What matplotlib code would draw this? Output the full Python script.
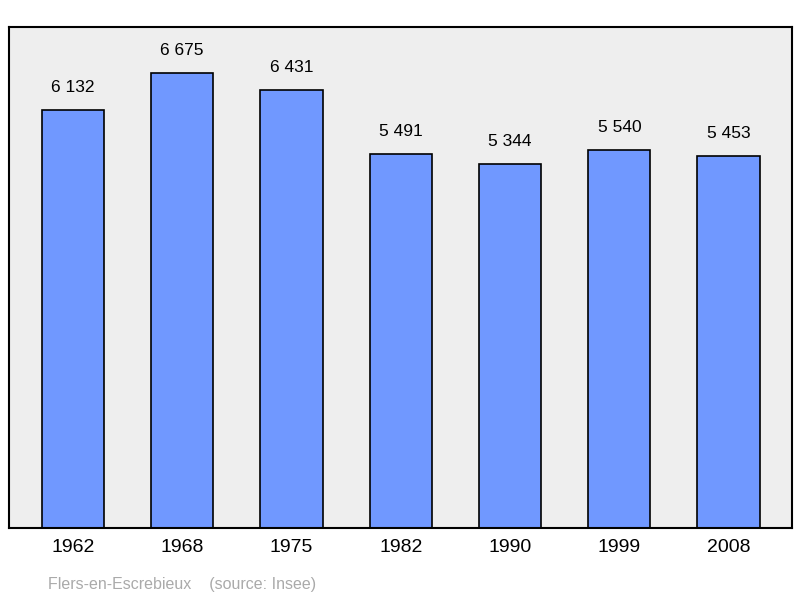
import matplotlib
matplotlib.use("Agg")
import matplotlib.pyplot as plt

years = ["1962", "1968", "1975", "1982", "1990", "1999", "2008"]
values = [6132, 6675, 6431, 5491, 5344, 5540, 5453]
labels = ["6 132", "6 675", "6 431", "5 491", "5 344", "5 540", "5 453"]

plt.rcParams['font.family'] = ['Liberation Sans', 'DejaVu Sans']
fig = plt.figure(figsize=(8, 5.98), dpi=100)
ax = fig.add_axes([9/800, 1-528/598, (792-9)/800, (528-27)/598])
ax.set_facecolor('#eeeeee')
x = range(len(years))
ax.bar(x, values, width=0.57, color='#7098ff', edgecolor='black', linewidth=1.2, zorder=2)
for i, v in enumerate(values):
    ax.text(i, v + 220, labels[i], ha='center', va='bottom', fontsize=12.5)
ax.set_xlim(-0.585, 6.58)
ax.set_ylim(0, 7350)
ax.set_yticks([])
ax.set_xticks(list(x))
ax.set_xticklabels(years, fontsize=14)
ax.tick_params(axis='x', length=0, pad=8)
for s in ax.spines.values():
    s.set_linewidth(1.5)
fig.text(48/800, 1-584/598, "Flers-en-Escrebieux    (source: Insee)", fontsize=11.5,
         color='#aaaaaa', va='center', ha='left')
fig.savefig("out.png", dpi=100)
